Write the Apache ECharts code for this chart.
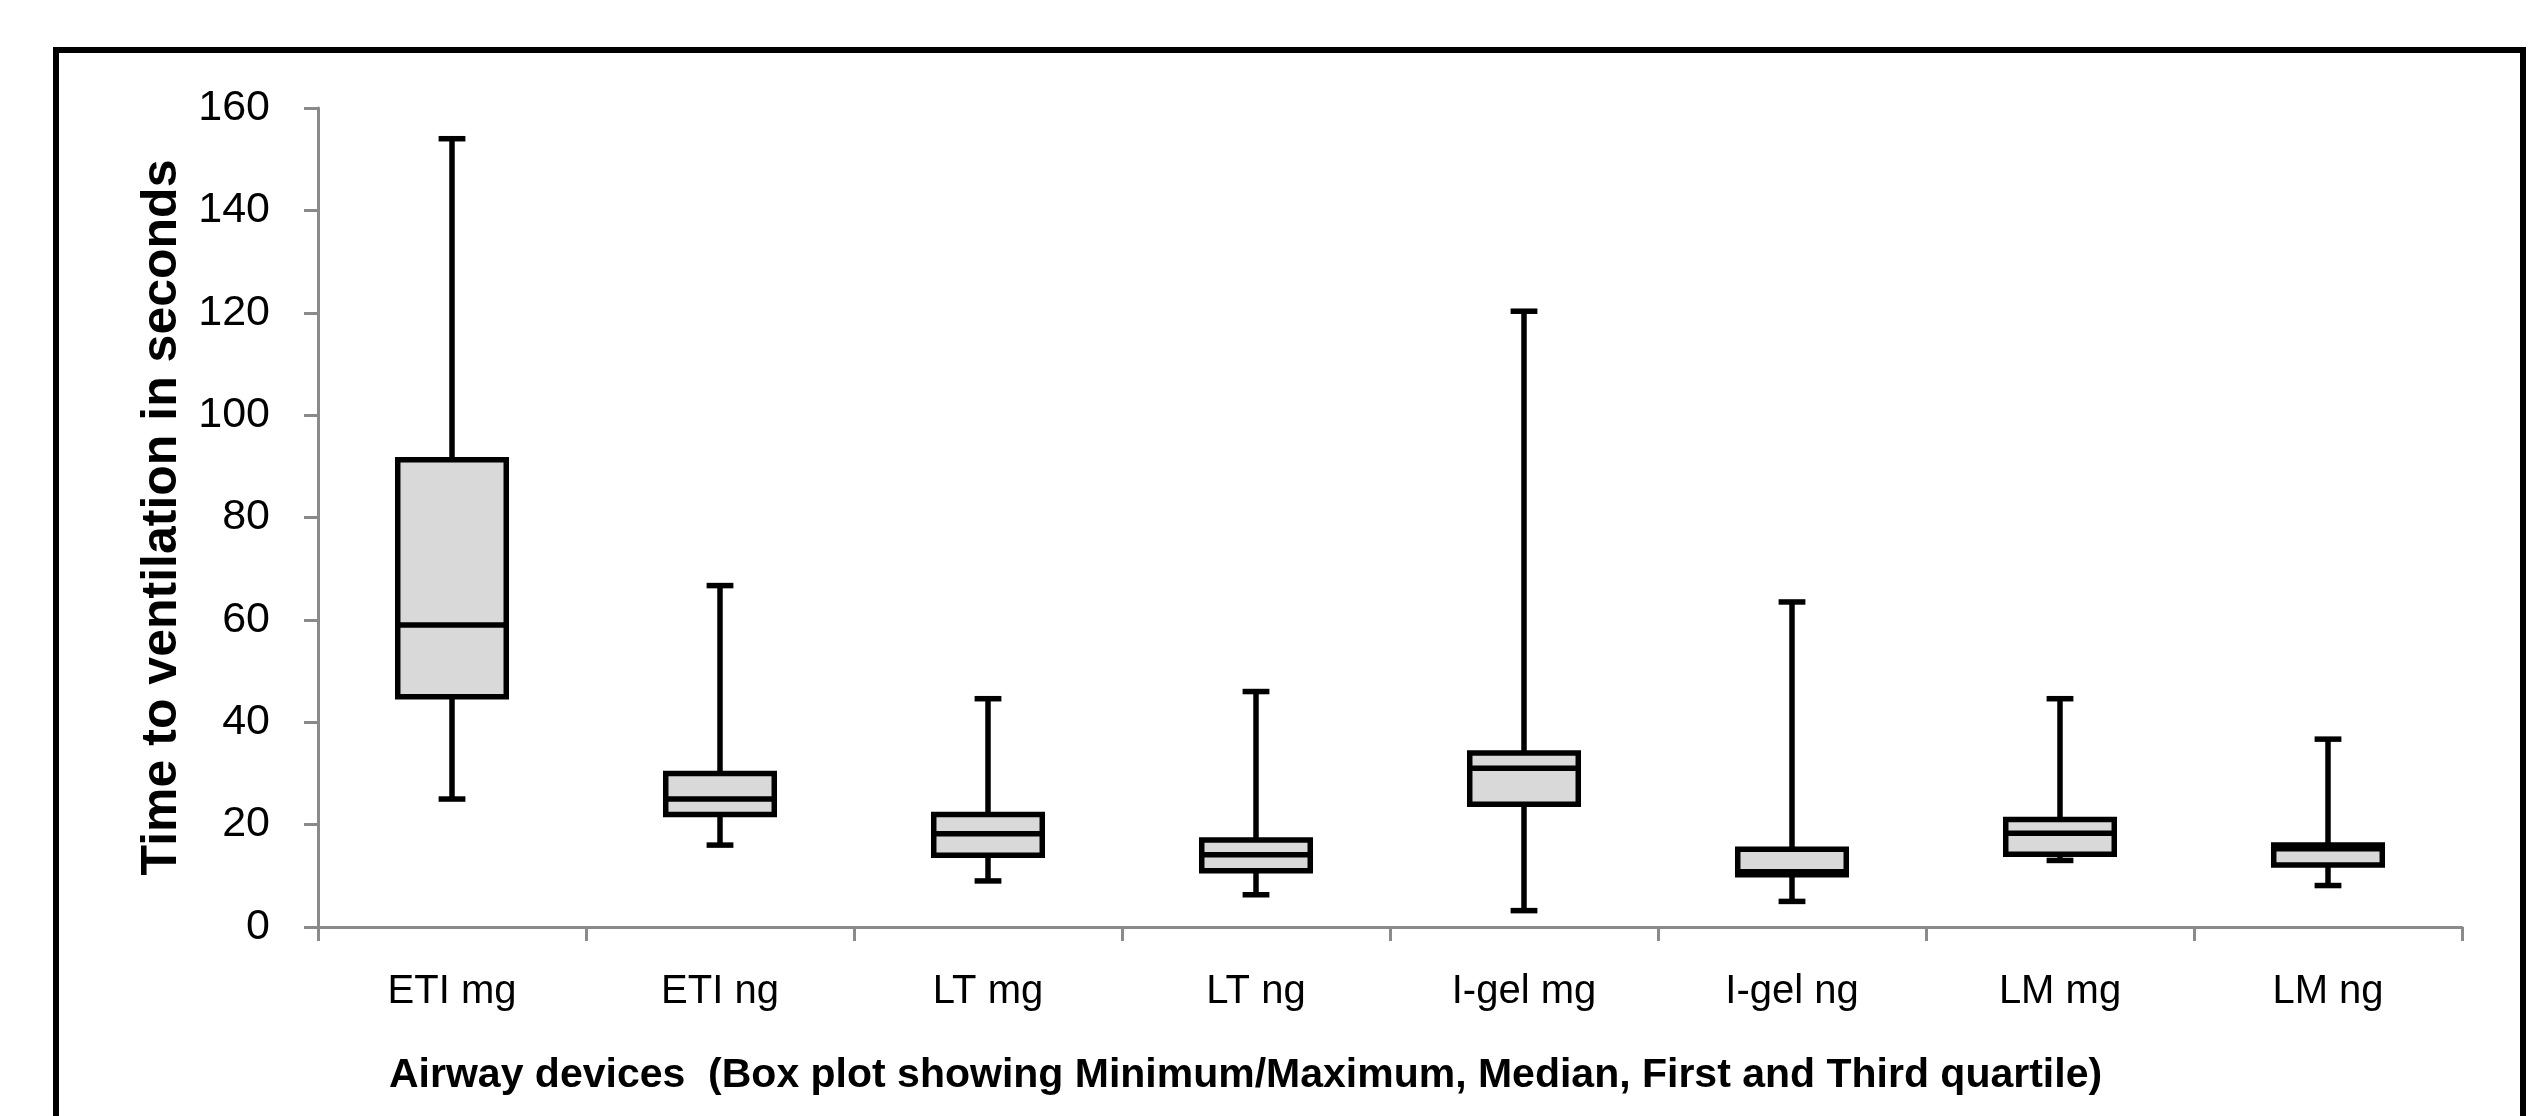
<!DOCTYPE html>
<html>
<head>
<meta charset="utf-8">
<script src="https://cdn.jsdelivr.net/npm/echarts@6/dist/echarts.min.js"></script>
<style>
html,body{margin:0;padding:0;background:#fff;}
#chart{width:2539px;height:1116px;}
</style>
</head>
<body>
<div id="chart"></div>
<script>
// Data
const categories = ['ETI mg', 'ETI ng', 'LT mg', 'LT ng', 'I-gel mg', 'I-gel ng', 'LM mg', 'LM ng'];
const minimum = [25, 16, 9, 6.3, 3.2, 5, 13, 8.1];
const firstQuartile = [45, 22, 14, 11, 24, 10.2, 14.2, 12.1];
const median = [59, 25, 18.2, 14.1, 31, 10.8, 18.3, 15.3];
const thirdQuartile = [91.3, 30, 22, 17, 34, 15.2, 21, 16];
const maximum = [154, 66.7, 44.6, 46, 120.3, 63.5, 44.6, 36.7];
const yTicks = { min: 0, max: 160, interval: 20 };

const boxData = categories.map((c, i) => [i, minimum[i], firstQuartile[i], median[i], thirdQuartile[i], maximum[i]]);

const FONT = "'Liberation Sans', Arial, sans-serif";
const chart = echarts.init(document.getElementById('chart'), null, { renderer: 'canvas' });

function renderBox(params, api) {
  const x = api.value(0);
  const pMin = api.coord([x, api.value(1)]);
  const pQ1 = api.coord([x, api.value(2)]);
  const pMed = api.coord([x, api.value(3)]);
  const pQ3 = api.coord([x, api.value(4)]);
  const pMax = api.coord([x, api.value(5)]);
  const band = api.size([1, 0])[0];
  const bw = band * 0.405;
  const cw = band * 0.1;
  const cx = pMed[0];
  const st = { stroke: '#000', lineWidth: 5.5, fill: null };
  return {
    type: 'group',
    children: [
      { type: 'line', shape: { x1: cx, y1: pMax[1], x2: cx, y2: pQ3[1] }, style: st },
      { type: 'line', shape: { x1: cx, y1: pQ1[1], x2: cx, y2: pMin[1] }, style: st },
      { type: 'line', shape: { x1: cx - cw / 2, y1: pMax[1], x2: cx + cw / 2, y2: pMax[1] }, style: st },
      { type: 'line', shape: { x1: cx - cw / 2, y1: pMin[1], x2: cx + cw / 2, y2: pMin[1] }, style: st },
      { type: 'rect', shape: { x: cx - bw / 2, y: pQ3[1], width: bw, height: pQ1[1] - pQ3[1] },
        style: { fill: '#d9d9d9', stroke: '#000', lineWidth: 5.5 } },
      { type: 'line', shape: { x1: cx - bw / 2, y1: pMed[1], x2: cx + bw / 2, y2: pMed[1] }, style: st }
    ]
  };
}

chart.setOption({
  backgroundColor: '#fff',
  animation: false,
  title: {
    text: 'Airway devices  (Box plot showing Minimum/Maximum, Median, First and Third quartile)',
    left: 389,
    top: 1055,
    padding: 0,
    textStyle: { fontFamily: FONT, fontWeight: 'bold', fontSize: 41, color: '#000' }
  },
  graphic: [
    {
      type: 'rect',
      shape: { x: 56, y: 50, width: 2467, height: 1120 },
      style: { fill: null, stroke: '#000', lineWidth: 6 },
      silent: true
    }
  ],
  grid: { left: 318, right: 77, top: 108, bottom: 189 },
  xAxis: {
    type: 'category',
    data: categories,
    boundaryGap: true,
    axisLine: { show: true, lineStyle: { color: '#8a8a8a', width: 3 } },
    axisTick: { show: true, inside: false, length: 14, interval: 0, alignWithLabel: false, lineStyle: { color: '#8a8a8a', width: 3 } },
    axisLabel: { interval: 0, margin: 45, color: '#000', fontFamily: FONT, fontSize: 40 },
    splitLine: { show: false }
  },
  yAxis: {
    type: 'value',
    min: yTicks.min,
    max: yTicks.max,
    interval: yTicks.interval,
    name: 'Time to ventilation in seconds',
    nameLocation: 'middle',
    nameGap: 130,
    nameTextStyle: { fontFamily: FONT, fontWeight: 'bold', fontSize: 50, color: '#000' },
    axisLine: { show: true, lineStyle: { color: '#8a8a8a', width: 3 } },
    axisTick: { show: true, inside: false, length: 14, lineStyle: { color: '#8a8a8a', width: 3 } },
    axisLabel: { margin: 48, color: '#000', fontFamily: FONT, fontSize: 43 },
    splitLine: { show: false }
  },
  series: [
    {
      type: 'custom',
      renderItem: renderBox,
      data: boxData,
      encode: { x: 0, y: [1, 2, 3, 4, 5] },
      clip: false
    }
  ]
});
</script>
</body>
</html>
